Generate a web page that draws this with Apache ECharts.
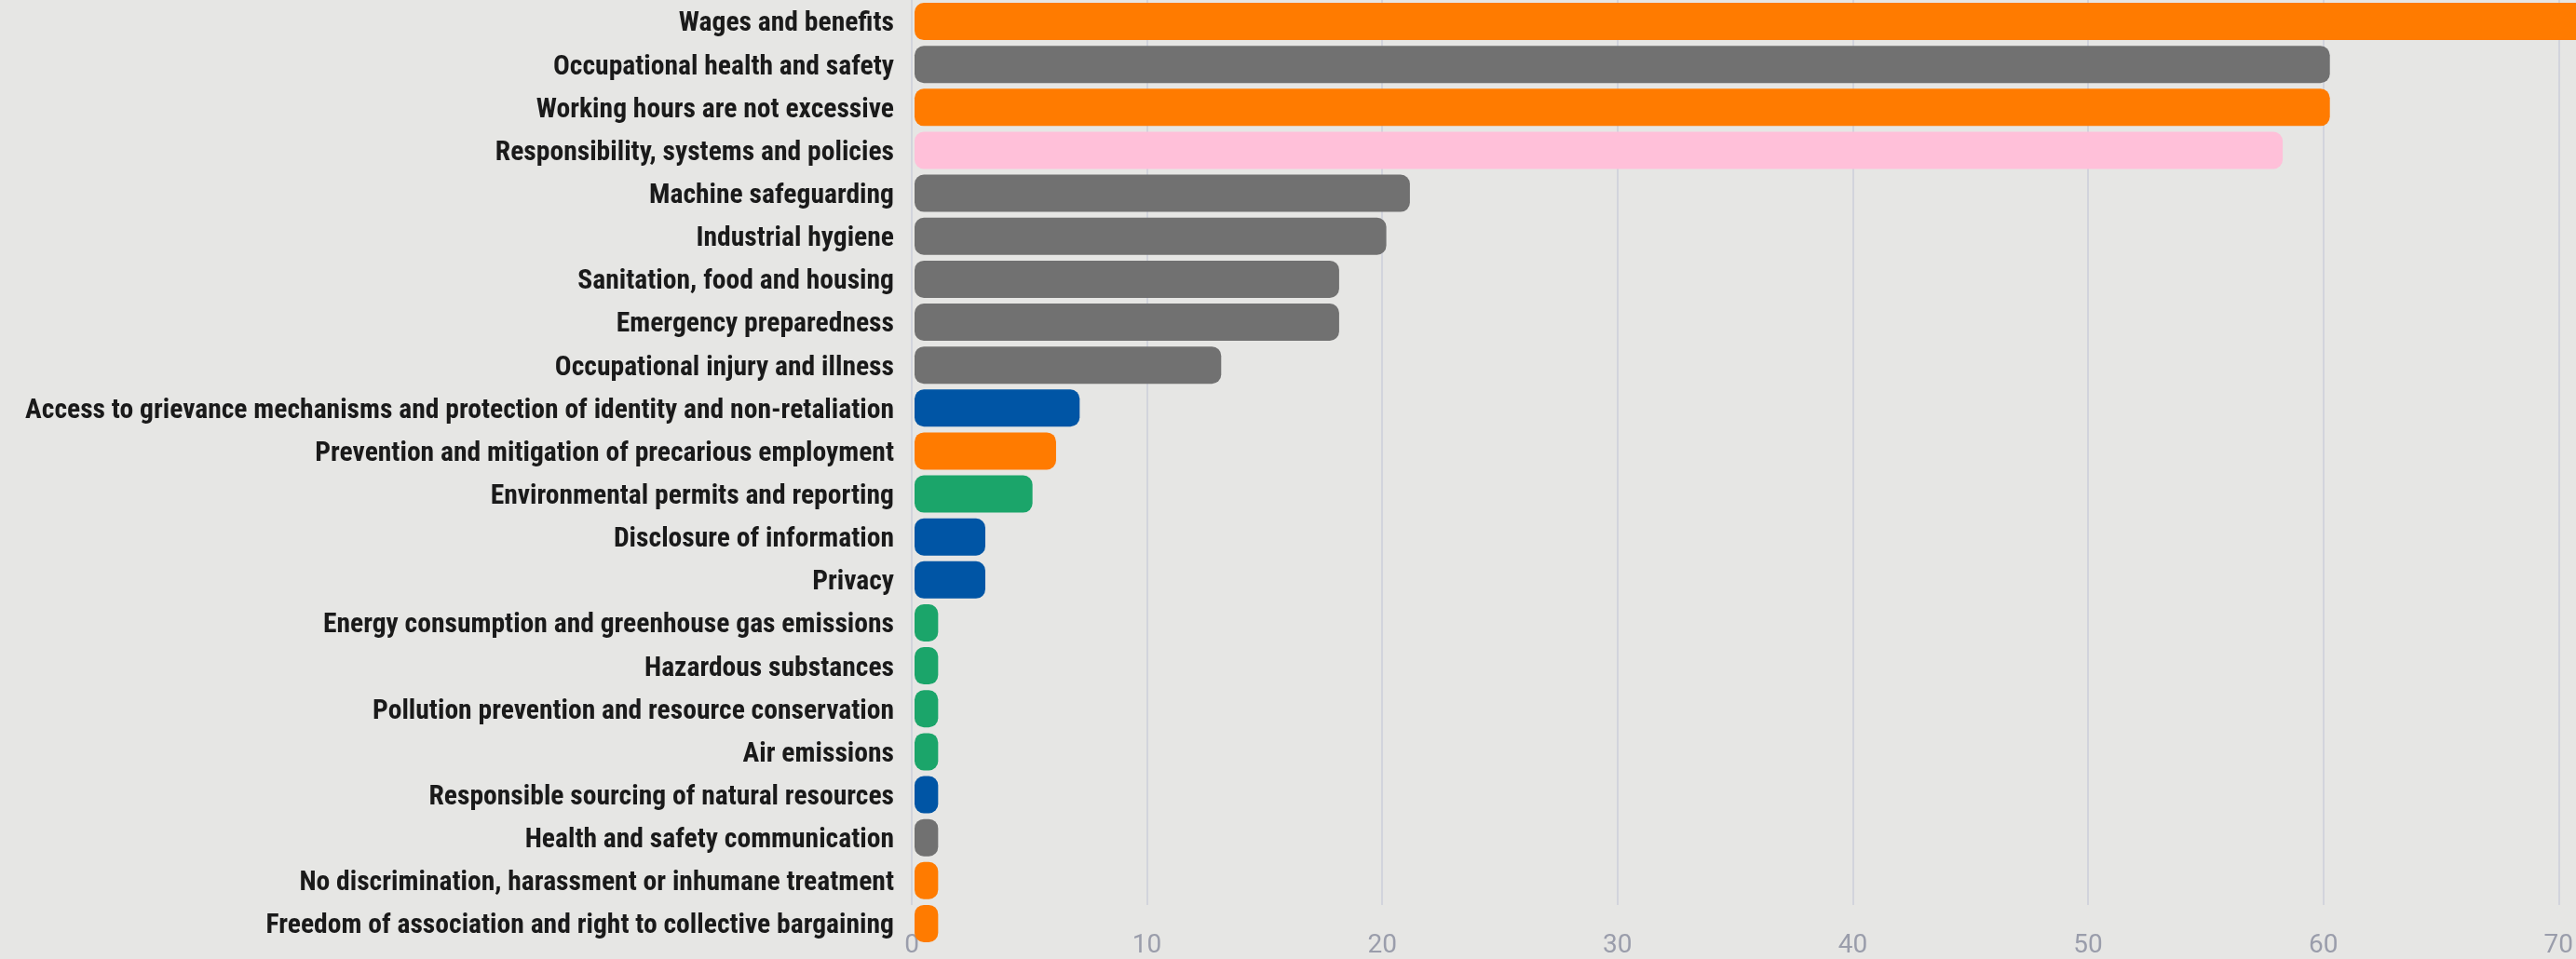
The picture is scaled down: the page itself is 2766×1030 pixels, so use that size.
<!DOCTYPE html>
<html>
<head>
<meta charset="utf-8">
<script src="https://cdn.jsdelivr.net/npm/echarts@6/dist/echarts.min.js"></script>
<style>
  html, body { margin: 0; padding: 0; background: #e6e6e4; }
  #chart { width: 2766px; height: 1030px; }
</style>
</head>
<body>
<div id="chart"></div>
<script>
// RBA code provisions, top to bottom
const categories = [
  "Wages and benefits",
  "Occupational health and safety",
  "Working hours are not excessive",
  "Responsibility, systems and policies",
  "Machine safeguarding",
  "Industrial hygiene",
  "Sanitation, food and housing",
  "Emergency preparedness",
  "Occupational injury and illness",
  "Access to grievance mechanisms and protection of identity and non-retaliation",
  "Prevention and mitigation of precarious employment",
  "Environmental permits and reporting",
  "Disclosure of information",
  "Privacy",
  "Energy consumption and greenhouse gas emissions",
  "Hazardous substances",
  "Pollution prevention and resource conservation",
  "Air emissions",
  "Responsible sourcing of natural resources",
  "Health and safety communication",
  "No discrimination, harassment or inhumane treatment",
  "Freedom of association and right to collective bargaining",
];
const values = [78, 60, 60, 58, 21, 20, 18, 18, 13, 7, 6, 5, 3, 3, 1, 1, 1, 1, 1, 1, 1, 1];
const sections = [
  "labor", "health", "labor", "management", "health", "health", "health", "health", "health",
  "ethics", "labor", "environment", "ethics", "ethics", "environment", "environment",
  "environment", "environment", "ethics", "health", "labor", "labor",
];
const xTicks = [0, 10, 20, 30, 40, 50, 60, 70];

const sectionColors = {
  labor: "#ff7b00",
  health: "#717171",
  management: "#ffc0d9",
  ethics: "#0055a5",
  environment: "#1ba56a",
};

const chart = echarts.init(document.getElementById("chart"));

const option = {
  backgroundColor: "#e6e6e4",
  animation: false,
  grid: [
    { left: 982, right: 11, top: 0, bottom: 15 },
    { left: 979, right: 14, top: 0, bottom: 53 },
  ],
  xAxis: [
    {
      gridIndex: 0,
      type: "value",
      min: 0,
      max: 70,
      show: false,
    },
    {
      gridIndex: 1,
      type: "value",
      min: xTicks[0],
      max: xTicks[xTicks.length - 1],
      interval: 10,
      axisLine: { show: false },
      axisTick: { show: false },
      splitLine: {
        show: true,
        lineStyle: { color: "#d2d4dc", width: 2 },
      },
      axisLabel: {
        color: "#9a9dab",
        fontSize: 28,
        fontFamily: "Roboto",
        margin: 30,
      },
    },
  ],
  yAxis: [
    {
      gridIndex: 0,
      type: "category",
      data: categories,
      inverse: true,
      axisLine: { show: false },
      axisTick: { show: false },
      splitLine: { show: false },
      axisLabel: {
        margin: 22,
        formatter: (v) => "{t|" + v + "}",
        rich: {
          t: {
            color: "#1a1a1a",
            fontSize: 29.6,
            fontWeight: "bold",
            fontFamily: "'Roboto Condensed', 'DejaVu Sans Condensed', Roboto, sans-serif",
            padding: [6, 0, 0, 0],
          },
        },
      },
    },
    {
      gridIndex: 1,
      type: "value",
      show: false,
    },
  ],
  series: [
    {
      type: "bar",
      xAxisIndex: 0,
      yAxisIndex: 0,
      barWidth: 40,
      clip: false,
      z: 3,
      data: values.map((v, i) => ({
        value: v,
        itemStyle: {
          color: sectionColors[sections[i]],
          borderRadius: 10,
        },
      })),
    },
  ],
};

chart.setOption(option);
</script>
</body>
</html>
